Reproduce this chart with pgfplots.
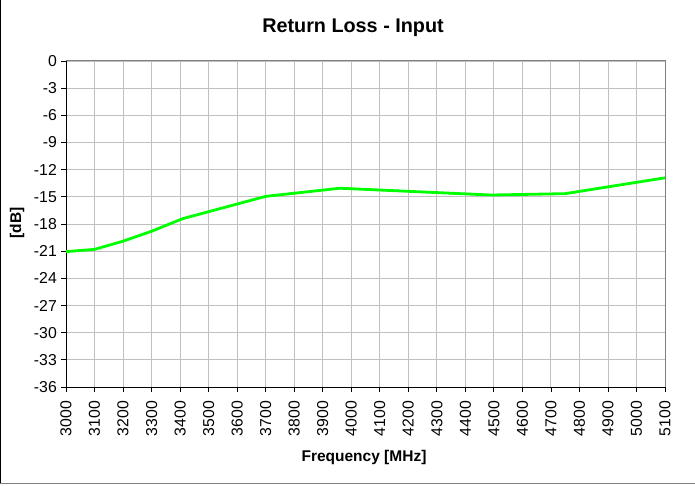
\documentclass[border=0pt]{standalone}
\usepackage{pgfplots}
\pgfplotsset{compat=1.18}
\usepackage{fontspec}
\setmainfont{Liberation Sans}
\definecolor{gridgray}{HTML}{C0C0C0}
\definecolor{framegray}{HTML}{808080}
\definecolor{linegreen}{HTML}{00FF00}
\begin{document}
\begin{tikzpicture}
\useasboundingbox (0,0) rectangle (695pt,485pt);
\draw[black, line width=1pt] (0.5pt,2pt) -- (0.5pt,485pt);
\draw[framegray, line width=1pt] (0pt,2pt) -- (695pt,2pt);
\begin{axis}[
  scale only axis,
  width=599pt, height=326pt,
  at={(66pt,98pt)}, anchor=south west,
  xmin=3000, xmax=5100,
  ymin=-36, ymax=0,
  xtick={3000,3100,...,5100},
  ytick={-36,-33,...,0},
  /pgf/number format/assume math mode=true,
  /pgf/number format/1000 sep={},
  tick label style={font=\fontsize{15.8}{16}\selectfont},
  xticklabel style={rotate=90, anchor=east, inner sep=0pt},
  yticklabel style={anchor=east, inner sep=0pt},
  xticklabel shift=9pt,
  yticklabel shift=4pt,
  tick align=outside,
  major tick length=5pt,
  tick style={black, line width=0.8pt},
  xtick pos=bottom, ytick pos=left,
  grid=major,
  major grid style={gridgray, line width=0.9pt},
  axis line style={draw=none},
  clip=false,
]
\draw[framegray, line width=1pt] (rel axis cs:0,1) -- (rel axis cs:1,1) -- (rel axis cs:1,0);
\draw[black, line width=1pt] (rel axis cs:0,1) -- (rel axis cs:0,0) -- (rel axis cs:1,0);
\addplot[linegreen, line width=2.8pt, line join=round] coordinates {
  (3000,-21.05) (3100,-20.8) (3200,-19.9) (3300,-18.8) (3410,-17.4)
  (3700,-14.95) (3960,-14.05) (4490,-14.8) (4750,-14.65) (5100,-12.9)
};
\end{axis}
\node[anchor=base, font=\fontsize{19.8}{20}\selectfont\bfseries] at (353pt,452.7pt) {Return Loss - Input};
\node[anchor=base, font=\fontsize{15.5}{16}\selectfont\bfseries] at (364pt,23.3pt) {Frequency [MHz]};
\node[rotate=90, font=\fontsize{15.5}{16}\selectfont\bfseries] at (17pt,262pt) {[dB]};
\end{tikzpicture}
\end{document}
